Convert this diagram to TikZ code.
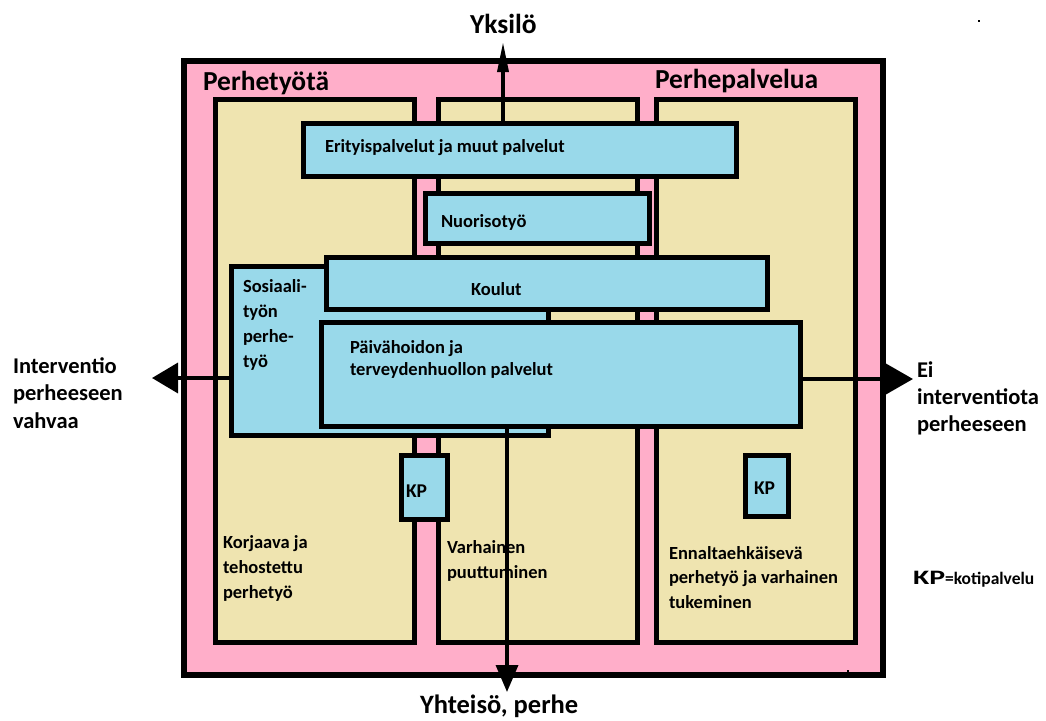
\documentclass[tikz,border=0pt]{standalone}
\usepackage{fontspec}
\setmainfont{Carlito}
\usetikzlibrary{arrows.meta}
\definecolor{rose}{RGB}{255,174,201}
\definecolor{sand}{RGB}{239,228,176}
\definecolor{sky}{RGB}{153,217,234}
\tikzset{
  frame/.style={draw=black, line width=5pt, inner sep=0pt, outer sep=0pt,
                anchor=north west, line join=miter},
  column/.style={frame, fill=sand, minimum width=199pt, minimum height=543pt},
  service/.style={frame, fill=sky},
  % multi-line labels are anchored at the baseline of their last line
  lbl/.style={inner sep=0pt, outer sep=0pt, anchor=base west, align=left,
              font=\bfseries\fontsize{18.5}{25}\selectfont},
  side/.style={lbl, font=\bfseries\fontsize{22.5}{27.5}\selectfont},
  title/.style={inner sep=0pt, outer sep=0pt, anchor=base west,
                font=\bfseries\fontsize{27.5}{30}\selectfont},
  axis/.style={draw=black, line width=3.5pt},
}
\begin{document}
\begin{tikzpicture}[x=1pt,y=-1pt]
\useasboundingbox (0,0) rectangle (1046,720);

% outer field
\node[frame, fill=rose, line width=6pt, minimum width=699pt, minimum height=614pt] (outer) at (184,61) {};

% three columns
\node[column] (colL) at (215,99) {};
\node[column] (colM) at (438,99) {};
\node[column] (colR) at (656,99) {};

% services
\node[service, minimum width=433pt, minimum height=53pt]  (erit) at (303,123) {};
\node[service, minimum width=224pt, minimum height=50pt]  (nuor) at (425,193) {};
\node[service, minimum width=317pt, minimum height=169pt] (sos)  at (231,266) {};
\node[service, minimum width=441pt, minimum height=52pt]  (koul) at (326,257) {};
\node[service, minimum width=479pt, minimum height=104pt] (paiv) at (321,322) {};
\node[service, minimum width=46pt,  minimum height=64pt]  (kp1)  at (401,455) {};
\node[service, minimum width=43pt,  minimum height=61pt]  (kp2)  at (745,455) {};

% headings
\node[title] (tPerhetyo) at (203,90) {Perhetyötä};
\node[title] (tPalvelu)  at (655,88) {Perhepalvelua};
\node[title] (tYksilo)   at (470,33) {Yksilö};
\node[title, font=\bfseries\fontsize{26.5}{30}\selectfont] (tYhteiso) at (420,713) {Yhteisö, perhe};

% box texts
\node[lbl] (lErit) at (325,152) {Erityispalvelut ja muut palvelut};
\node[lbl] (lNuor) at (441,227) {Nuorisotyö};
\node[lbl] (lKoul) at (471,295) {Koulut};
\node[lbl] (lSos)  at (243,367) {Sosiaali-\\työn\\perhe-\\työ};
\node[lbl, font=\bfseries\fontsize{18.5}{22}\selectfont] (lPaiv) at (350,375) {Päivähoidon ja\\terveydenhuollon palvelut};
\node[lbl, font=\bfseries\fontsize{19.5}{22}\selectfont] (lKp1) at (406,497) {KP};
\node[lbl, font=\bfseries\fontsize{19.5}{22}\selectfont] (lKp2) at (754,494) {KP};
\node[lbl] (lKorj) at (223,598) {Korjaava ja\\tehostettu\\perhetyö};
\node[lbl] (lVarh) at (447,578) {Varhainen\\puuttuminen};
\node[lbl, font=\bfseries\fontsize{18.5}{24.5}\selectfont] (lEnn) at (669,608) {Ennaltaehkäisevä\\perhetyö ja varhainen\\tukeminen};

% side texts
\node[side] (sLeft)  at (13,428)  {Interventio\\perheeseen\\vahvaa};
\node[side, font=\bfseries\fontsize{22.5}{27}\selectfont] (sRight) at (917,431) {Ei\\interventiota\\perheeseen};
\node[lbl] (legend) at (913,584) {{\fontsize{20.5}{22}\selectfont\scalebox{1.45}[1]{KP}}{\fontsize{17.5}{22}\selectfont =kotipalvelu}};

% axes
\coordinate (up)    at (503,42);
\coordinate (down)  at (507,692);
\coordinate (left)  at (152,378);
\coordinate (right) at (913,379);
\draw[axis, -{Triangle[length=30pt,width=11pt]}] (erit.north -| up) -- (up);
\draw[axis, -{Triangle[length=27pt,width=22pt]}] (paiv.south -| down) -- (down);
\draw[axis, -{Triangle[length=26pt,width=30pt]}] (sos.west |- left) -- (left);
\draw[axis, -{Triangle[length=27pt,width=30pt]}] (paiv.east |- right) -- (right);

% stray specks
\fill (978,20) rectangle (980,22);
\fill (847,670) rectangle (849,673);
\end{tikzpicture}
\end{document}
